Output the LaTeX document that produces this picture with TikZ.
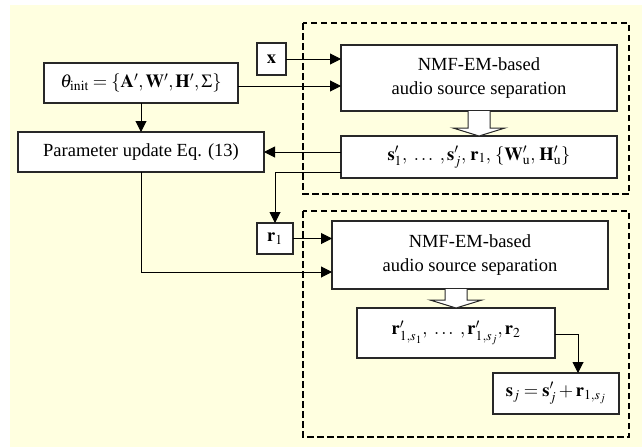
\documentclass[tikz,border=0pt]{standalone}
\usepackage{mathptmx}
\usepackage{fontspec}
\setmainfont{Liberation Serif}
\usetikzlibrary{arrows.meta,calc}
\definecolor{bgyellow}{RGB}{255,255,224}
\definecolor{boxline}{RGB}{40,40,40}
\begin{document}
\begin{tikzpicture}[x=1pt,y=-1pt,
  blk/.style={draw=boxline, line width=1.2pt, fill=white, inner sep=0pt, outer sep=0pt, align=center, font=\fontsize{18.5}{24}\selectfont},
  conn/.style={draw=black, line width=1pt, -{Triangle[length=11pt,width=11pt]}},
  grp/.style={draw=black, line width=2pt, dash pattern=on 6.5pt off 3.5pt},
  hollow/.style={draw=boxline, line width=1pt, fill=white, line join=miter}]
\useasboundingbox (0,0) rectangle (642,447);
\fill[bgyellow] (10,5) rectangle (642,447);
% group frames
\draw[grp] (303,23) rectangle (629,194);
\draw[grp] (303,211) rectangle (629,437);
% nodes
\node[blk, minimum width=29pt, minimum height=32pt] (xin) at (271.5,59) {$\mathbf{x}$};
\node[blk, minimum width=194pt, minimum height=40pt] (theta) at (141,83) {$\theta_{\mathrm{init}}=\{\mathbf{A}',\mathbf{W}',\mathbf{H}',\Sigma\}$};
\node[blk, minimum width=246pt, minimum height=40pt] (param) at (141,152) {Parameter update Eq. (13)};
\node[blk, minimum width=276pt, minimum height=66pt] (nmfa) at (479,78) {NMF-EM-based\\audio source separation};
\node[blk, minimum width=276pt, minimum height=42pt] (res) at (479,157) {$\mathbf{s}'_1,\ \ldots\ ,\mathbf{s}'_j,\,\mathbf{r}_1,\,\{\mathbf{W}'_{\mathrm{u}},\,\mathbf{H}'_{\mathrm{u}}\}$};
\node[blk, minimum width=36pt, minimum height=31pt] (rone) at (275,238.5) {$\mathbf{r}_1$};
\node[blk, minimum width=276pt, minimum height=68pt] (nmfb) at (470,255) {NMF-EM-based\\audio source separation};
\node[blk, minimum width=198pt, minimum height=50pt] (rp) at (456,333) {$\mathbf{r}'_{1,s_1},\ \ldots\ ,\mathbf{r}'_{1,s_j},\mathbf{r}_2$};
\node[blk, minimum width=126pt, minimum height=41pt] (sj) at (556,393.5) {$\mathbf{s}_j=\mathbf{s}'_j+\mathbf{r}_{1,s_j}$};
% helper coordinates
\coordinate (thetaout) at ([yshift=-3pt]theta.east);
\coordinate (resup) at ([yshift=5pt]res.west);
\coordinate (resdown) at ([yshift=-15pt]res.west);
\coordinate (nmfbin) at ([yshift=-17pt]nmfb.west);
\coordinate (sjin) at ([xshift=22pt]sj.north);
\coordinate (rpout) at ([yshift=-1pt]rp.east);
% connectors
\draw[conn] (xin.east) -- (nmfa.west |- xin.east);
\draw[conn] (thetaout) -- (nmfa.west |- thetaout);
\draw[conn] (theta.south) -- (param.north);
\draw[conn] (resup) -- (param.east |- resup);
\draw[conn] (resdown) -| (rone.north);
\draw[conn] (rone.east) -- (nmfb.west |- rone.east);
\draw[conn] (param.south) |- (nmfbin);
\draw[conn] (rpout) -| (sjin);
% hollow arrows
\coordinate (a1) at (nmfa.south);
\coordinate (b1) at (res.north);
\draw[hollow] ([xshift=-11pt]a1) -- ([xshift=-11pt,yshift=8pt]b1) -- ([xshift=-26pt,yshift=8pt]b1) -- (b1) -- ([xshift=26pt,yshift=8pt]b1) -- ([xshift=11pt,yshift=8pt]b1) -- ([xshift=11pt]a1);
\coordinate (a2) at (rp.north |- nmfb.south);
\coordinate (b2) at (rp.north);
\draw[hollow] ([xshift=-11pt]a2) -- ([xshift=-11pt,yshift=8pt]b2) -- ([xshift=-26pt,yshift=8pt]b2) -- (b2) -- ([xshift=26pt,yshift=8pt]b2) -- ([xshift=11pt,yshift=8pt]b2) -- ([xshift=11pt]a2);
\end{tikzpicture}
\end{document}
